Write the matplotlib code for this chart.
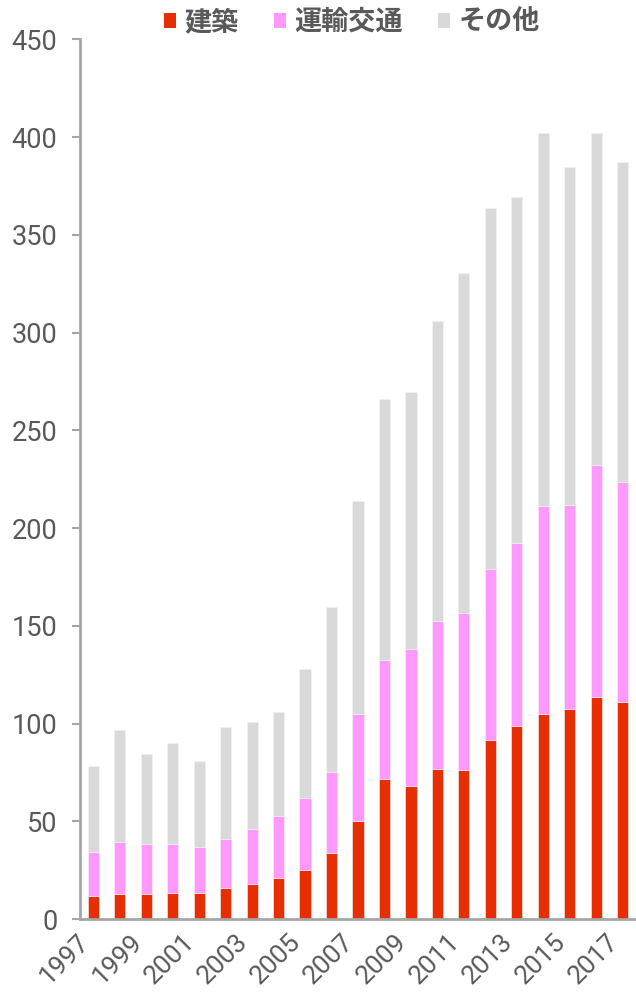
import matplotlib
matplotlib.use("Agg")
import matplotlib.pyplot as plt
from matplotlib.patches import Patch
from matplotlib.transforms import ScaledTranslation
import numpy as np

years = [str(y) for y in range(1997, 2018)]
kenchiku = [12, 12.8, 12.8, 13.3, 13.3, 15.9, 17.9, 21.2, 25.1, 33.9, 50.3,
            71.5, 68.0, 76.6, 76.1, 91.7, 98.9, 104.9, 107.4, 113.4, 110.8]
transport_top = [34.1, 39.6, 38.2, 38.2, 37.0, 40.8, 46.1, 52.6, 62.0, 75.3, 104.9,
                 132.5, 138.1, 152.6, 156.5, 178.9, 192.5, 211.1, 211.6, 232.1, 223.5]
total = [78.2, 96.6, 84.2, 90.0, 81.0, 98.0, 100.6, 105.8, 127.7, 159.7, 213.6,
         266.0, 269.4, 306.0, 330.3, 363.8, 369.1, 401.9, 384.8, 401.9, 387.4]
unyu = [t - k for t, k in zip(transport_top, kenchiku)]
sonota = [a - t for a, t in zip(total, transport_top)]
labels = ["建築", "運輸交通", "その他"]
colors = ["#e62e00", "#ff99ff", "#d9d9d9"]
yticks = [0, 50, 100, 150, 200, 250, 300, 350, 400, 450]

txt = "#595959"
axc = "#a6a6a6"

fig = plt.figure(figsize=(6.36, 9.93), dpi=100)
ax = fig.add_axes([80/636, 1-919/993, 1-80/636, (919-39.3)/993])
x = np.arange(len(years))
w = 0.42
ax.bar(x, kenchiku, w, color=colors[0], edgecolor="#f3f3f3", linewidth=0.4)
ax.bar(x, unyu, w, bottom=kenchiku, color=colors[1], edgecolor="#f3f3f3", linewidth=0.4)
ax.bar(x, sonota, w, bottom=transport_top, color=colors[2], edgecolor="#f3f3f3", linewidth=0.4)

ax.set_xlim(-0.5, len(years) - 0.5)
ax.set_ylim(0, 450)
ax.set_yticks(yticks)
ax.set_yticklabels([str(v) for v in yticks], family="Roboto", fontsize=19.5, color=txt)
ax.tick_params(axis="y", length=5.8, width=1.5, color=axc, pad=10.5)
ax.set_xticks(x[::2])
ax.set_xticklabels(years[::2], family="Roboto", fontsize=19, color=txt,
                   rotation=45, ha="right", va="center", rotation_mode="anchor")
ax.tick_params(axis="x", length=0, pad=16)
off = ScaledTranslation(-8/100, 3/100, fig.dpi_scale_trans)
for lab in ax.get_xticklabels():
    lab.set_transform(lab.get_transform() + off)
for s in ["top", "right"]:
    ax.spines[s].set_visible(False)
for s in ["left", "bottom"]:
    ax.spines[s].set_color(axc)
    ax.spines[s].set_linewidth(2)

handles = [Patch(facecolor=c, edgecolor="none") for c in colors]
leg = fig.legend(handles, labels, loc="center", bbox_to_anchor=(352/636, 1-22/993),
                 ncol=3, frameon=False, handlelength=0.45, handleheight=0.45,
                 handletextpad=0.3, columnspacing=1.3,
                 prop={"family": ["Noto Sans CJK JP", "DejaVu Sans"], "weight": "bold", "size": 19.5})
for t in leg.get_texts():
    t.set_color(txt)

fig.savefig("out.png", dpi=100)
